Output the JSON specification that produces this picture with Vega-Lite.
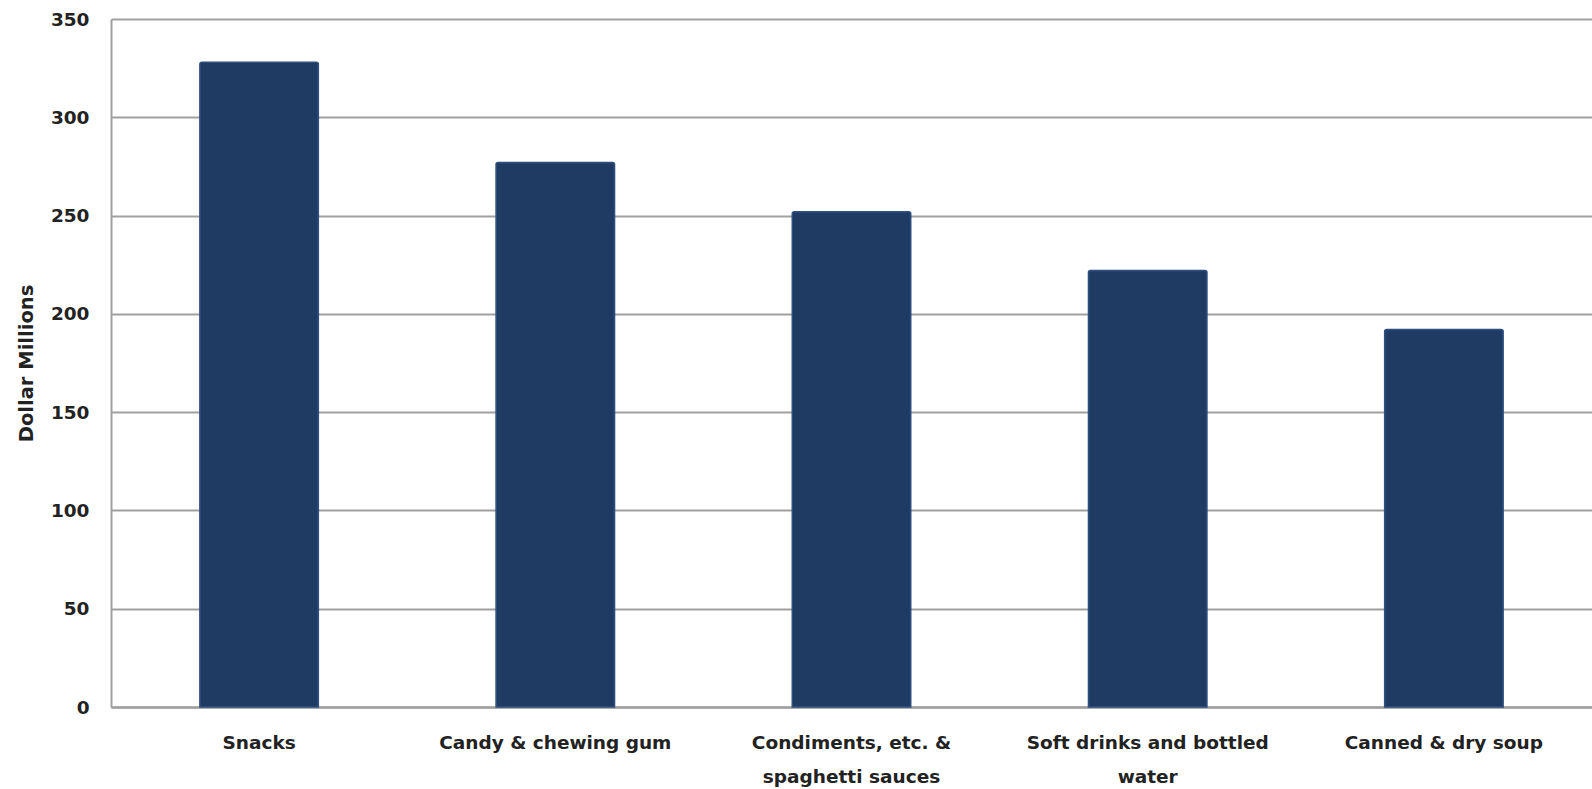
{
  "$schema": "https://vega.github.io/schema/vega-lite/v6.json",
  "width": 1481,
  "height": 688,
  "autosize": {"type": "none"},
  "padding": {"left": 111, "top": 19, "right": 0, "bottom": 82},
  "background": "white",
  "config": {
    "view": {"stroke": null},
    "font": "DejaVu Sans"
  },
  "data": {
    "values": [
      {"category": "Snacks", "value": 328},
      {"category": "Candy & chewing gum", "value": 277},
      {"category": "Condiments, etc. & spaghetti sauces", "value": 252},
      {"category": "Soft drinks and bottled water", "value": 222},
      {"category": "Canned & dry soup", "value": 192}
    ]
  },
  "mark": {"type": "bar", "color": "#1F3B63", "stroke": "#2E4E7E", "strokeWidth": 1.5, "cornerRadiusTopLeft": 2, "cornerRadiusTopRight": 2},
  "encoding": {
    "x": {
      "field": "category",
      "type": "nominal",
      "sort": null,
      "scale": {"paddingInner": 0.6, "paddingOuter": 0.3},
      "axis": {
        "title": null,
        "labelAngle": 0,
        "labelFont": "DejaVu Sans",
        "labelFontWeight": "bold",
        "labelFontSize": 18.5,
        "labelColor": "#222222",
        "labelPadding": 26,
        "labelLineHeight": 34,
        "labelLimit": 0,
        "labelExpr": "datum.label == 'Condiments, etc. & spaghetti sauces' ? ['Condiments, etc. &', 'spaghetti sauces'] : datum.label == 'Soft drinks and bottled water' ? ['Soft drinks and bottled', 'water'] : datum.label",
        "ticks": false,
        "domainColor": "#A0A0A0",
        "domainWidth": 2.5,
        "grid": false
      }
    },
    "y": {
      "field": "value",
      "type": "quantitative",
      "scale": {"domain": [0, 350], "nice": false},
      "axis": {
        "title": "Dollar Millions",
        "titleFont": "DejaVu Sans",
        "titleFontWeight": "bold",
        "titleFontSize": 19.5,
        "titleColor": "#222222",
        "titlePadding": 14,
        "values": [0, 50, 100, 150, 200, 250, 300, 350],
        "labelFont": "DejaVu Sans",
        "labelFontWeight": "bold",
        "labelFontSize": 18.5,
        "labelColor": "#222222",
        "labelPadding": 22,
        "ticks": false,
        "domainColor": "#A0A0A0",
        "domainWidth": 2,
        "grid": true,
        "gridColor": "#A0A0A0",
        "gridWidth": 2
      }
    }
  }
}
